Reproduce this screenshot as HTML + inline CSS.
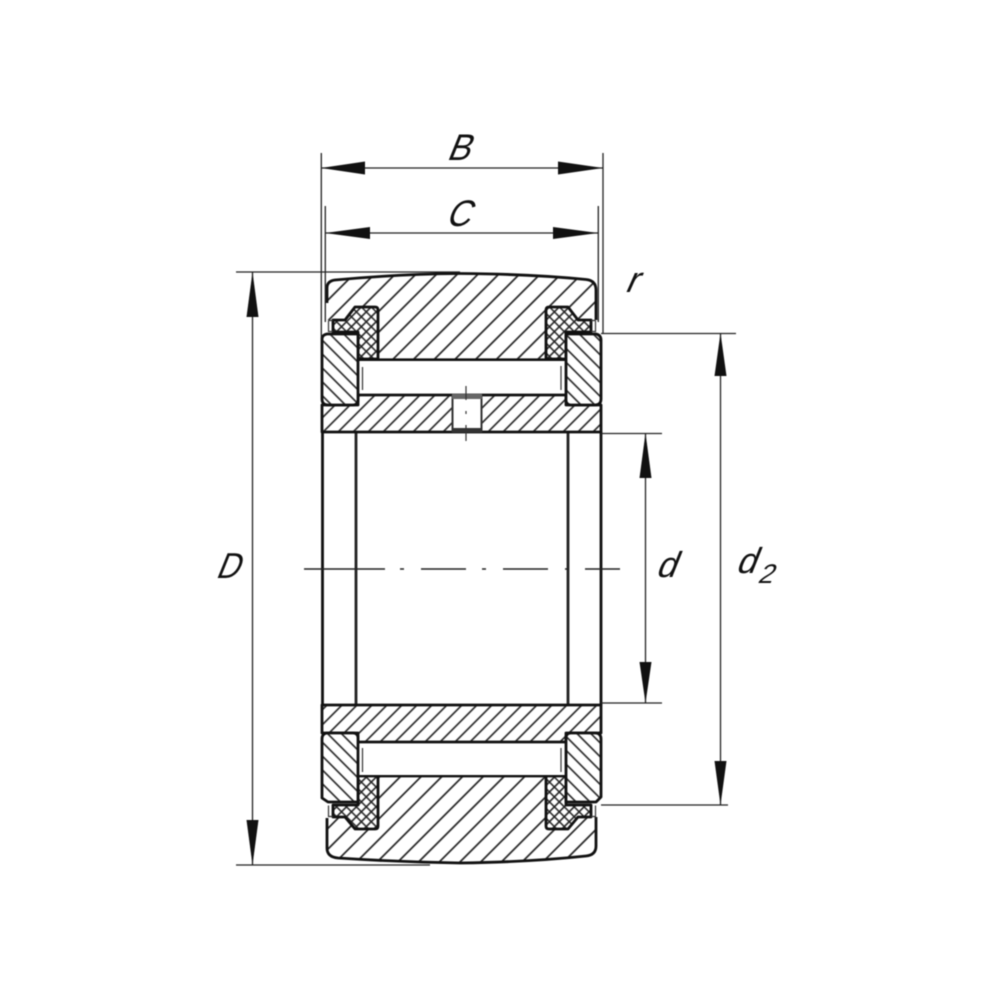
<!DOCTYPE html>
<html><head><meta charset="utf-8">
<style>
html,body{margin:0;padding:0;background:#fff}
svg{display:block;filter:blur(.4px)}
text{font-family:"Liberation Sans",sans-serif;fill:#111}
.o{stroke:#111;stroke-width:2.8;stroke-linejoin:round}
.t{stroke:#222;stroke-width:1.3;fill:none}
</style></head><body>
<svg width="1000" height="1000" viewBox="0 0 1000 1000" xmlns="http://www.w3.org/2000/svg">
<defs>
<pattern id="h1" patternUnits="userSpaceOnUse" width="14.64" height="14.64" patternTransform="rotate(45) translate(-2.46 0)"><rect width="15" height="15" fill="#fff"/><line x1="7.32" y1="0" x2="7.32" y2="15" stroke="#222" stroke-width="1.7"/></pattern>
<pattern id="h1b" patternUnits="userSpaceOnUse" width="14.64" height="14.64" patternTransform="rotate(45) translate(5.12 0)"><rect width="15" height="15" fill="#fff"/><line x1="7.32" y1="0" x2="7.32" y2="15" stroke="#222" stroke-width="1.7"/></pattern>
<pattern id="h2" patternUnits="userSpaceOnUse" width="10.6" height="10.6" patternTransform="rotate(45) translate(-1.4 0)"><rect width="11" height="11" fill="#fff"/><line x1="5.3" y1="0" x2="5.3" y2="11" stroke="#222" stroke-width="1.6"/></pattern>
<pattern id="h2b" patternUnits="userSpaceOnUse" width="10.6" height="10.6" patternTransform="rotate(45) translate(3.7 0)"><rect width="11" height="11" fill="#fff"/><line x1="5.3" y1="0" x2="5.3" y2="11" stroke="#222" stroke-width="1.6"/></pattern>
<pattern id="h3" patternUnits="userSpaceOnUse" width="9.8" height="9.8" patternTransform="rotate(-45) translate(2 0)"><rect width="10" height="10" fill="#fff"/><line x1="4.9" y1="0" x2="4.9" y2="10" stroke="#222" stroke-width="1.6"/></pattern>
<pattern id="x" patternUnits="userSpaceOnUse" width="7" height="7" patternTransform="rotate(45)"><rect width="7" height="7" fill="#fff"/><path d="M3.5 0V7M0 3.5H7" stroke="#222" stroke-width="1.6" fill="none"/></pattern>
</defs>
<rect width="1000" height="1000" fill="#fff"/>

<!-- bore sleeves -->
<path d="M356 432V705M568 432V705" stroke="#222" stroke-width="2.8" fill="none"/>
<path d="M322.5 432V705M601 432V705" stroke="#111" stroke-width="2.8" fill="none"/>

<!-- outer ring -->
<path fill="url(#h1)" d="M327 320V288Q327 281 335 280Q400 274 460 273.5Q530 274 586 279.5Q596 280.5 596 290V320H566V359.5H358V320Z"/>
<path fill="none" stroke="#111" stroke-width="2.8" d="M327 303V288Q327 281 335 280Q400 274 460 273.5Q530 274 586 279.5Q596 280.5 596 290V320"/>
<path fill="url(#h1b)" d="M327 851V817H596V846Q596 855 586 856Q530 862 460 863Q400 862 338 858Q327 857 327 851Z"/>
<path fill="url(#h1b)" d="M358 776H566V830H358Z"/>
<path fill="none" stroke="#111" stroke-width="2.8" d="M327 818V848Q327 857 338 858Q400 862 460 863Q530 862 586 856Q596 855 596 846V817"/>
<path d="M358 359.8H566M358 776H566" stroke="#111" stroke-width="2.8"/>

<!-- seals -->
<g class="o" fill="url(#x)">
<path d="M355 307H375Q378 307 378 310V359H358V332H333V320H345Z"/>
<path d="M568 307H549Q546 307 546 310V359H566V332H591V320H578Z"/>
<path d="M345 817H333V805H358V776H378V826Q378 829 375 829H355Z"/>
<path d="M578 817H591V805H566V776H546V826Q546 829 549 829H568Z"/>
</g>
<path d="M328.5 320.5V331.5H333M595.5 320.5V331.5H591M328.5 805.5V816.5H333M595.5 805.5V816.5H591M328.5 320.5H333M595.5 320.5H591M328.5 816.5H333M595.5 816.5H591" stroke="#333" stroke-width="1.2" fill="none"/>

<!-- rollers -->
<rect x="358" y="361" width="208" height="33.5" fill="#fff"/>
<rect x="358" y="743" width="208" height="32" fill="#fff"/>
<path d="M362.5 367V390M561 366V390M362.5 748V772M561 748V772" stroke="#333" stroke-width="1.2"/>

<!-- inner ring -->
<path class="o" fill="url(#h2)" d="M322 405H358V395H566V405H601V432H322Z"/>
<path class="o" fill="url(#h2b)" d="M322 705H601V733H566V742H358V733H322Z"/>
<rect x="451.5" y="395" width="30.5" height="37" fill="#fff"/>
<rect x="451.5" y="395" width="2" height="37" fill="#333"/>
<rect x="480.5" y="395" width="2" height="37" fill="#333"/>
<rect x="452" y="394" width="30" height="5" fill="#666"/>
<rect x="452" y="428" width="30" height="4.5" fill="#333"/>
<path d="M466 386V400M466 411V414M466 425V441" stroke="#333" stroke-width="1.2"/>

<!-- flanges -->
<g class="o" fill="url(#h3)">
<path d="M327 334H358V400Q358 405 353 405H328Q322 405 322 399V339Q322 335 327 334Z"/>
<path d="M566 334H596Q601 335 601 340V399Q601 405 595 405H571Q566 405 566 400Z"/>
<path d="M328 733H353Q358 733 358 738V802H328L322 798V739Q322 733 328 733Z"/>
<path d="M571 733H595Q601 733 601 739V797L596 802H566V738Q566 733 571 733Z"/>
</g>

<!-- extension lines -->
<g class="t">
<path d="M321.3 153V340M603 153V334"/>
<path d="M325.3 206V322M598.3 206V322"/>
<path d="M236 272H460M236 865H430"/>
<path d="M601 333.5H736M601 805H728M601 433.5H662M601 703H662"/>
<path d="M321 168H603"/>
<path d="M325 233H598"/>
<path d="M252.5 272V865"/>
<path d="M645.5 433V703"/>
<path d="M720.5 333V805"/>
<path d="M304 569H385M400 569H404M421 569H466M482 569H486M503 569H548M565 569H569M585 569H620" stroke="#222" stroke-width="1.4"/>
</g>

<!-- arrowheads -->
<g fill="#111">
<path d="M321 168L365 161.5V174.5Z"/><path d="M603 168L558 161.5V174.5Z"/>
<path d="M325 233L370 227V239Z"/><path d="M598 233L553 227V239Z"/>
<path d="M252.5 272L246.5 317H258.5Z"/><path d="M252.5 865L246.5 820H258.5Z"/>
<path d="M645.5 433L639.5 478H651.5Z"/><path d="M645.5 703L639.5 662H651.5Z"/>
<path d="M720.5 333L714.5 376H726.5Z"/><path d="M720.5 805L714.5 761H726.5Z"/>
</g>

<!-- labels -->
<text transform="translate(446 160) skewX(-22) scale(.92 1)" font-size="37">B</text>
<text transform="translate(445 226) skewX(-22) scale(.9 1)" font-size="37">C</text>
<text transform="translate(624 292) skewX(-24) scale(1 1)" font-size="36">r</text>
<text transform="translate(215 578) skewX(-22) scale(.88 1)" font-size="36">D</text>
<text transform="translate(655 577) skewX(-22) scale(.98 1)" font-size="36">d</text>
<text transform="translate(735 573) skewX(-22) scale(.98 1)" font-size="36">d</text>
<text transform="translate(757 583) skewX(-22) scale(1 1)" font-size="27">2</text>
</svg>
</body></html>
